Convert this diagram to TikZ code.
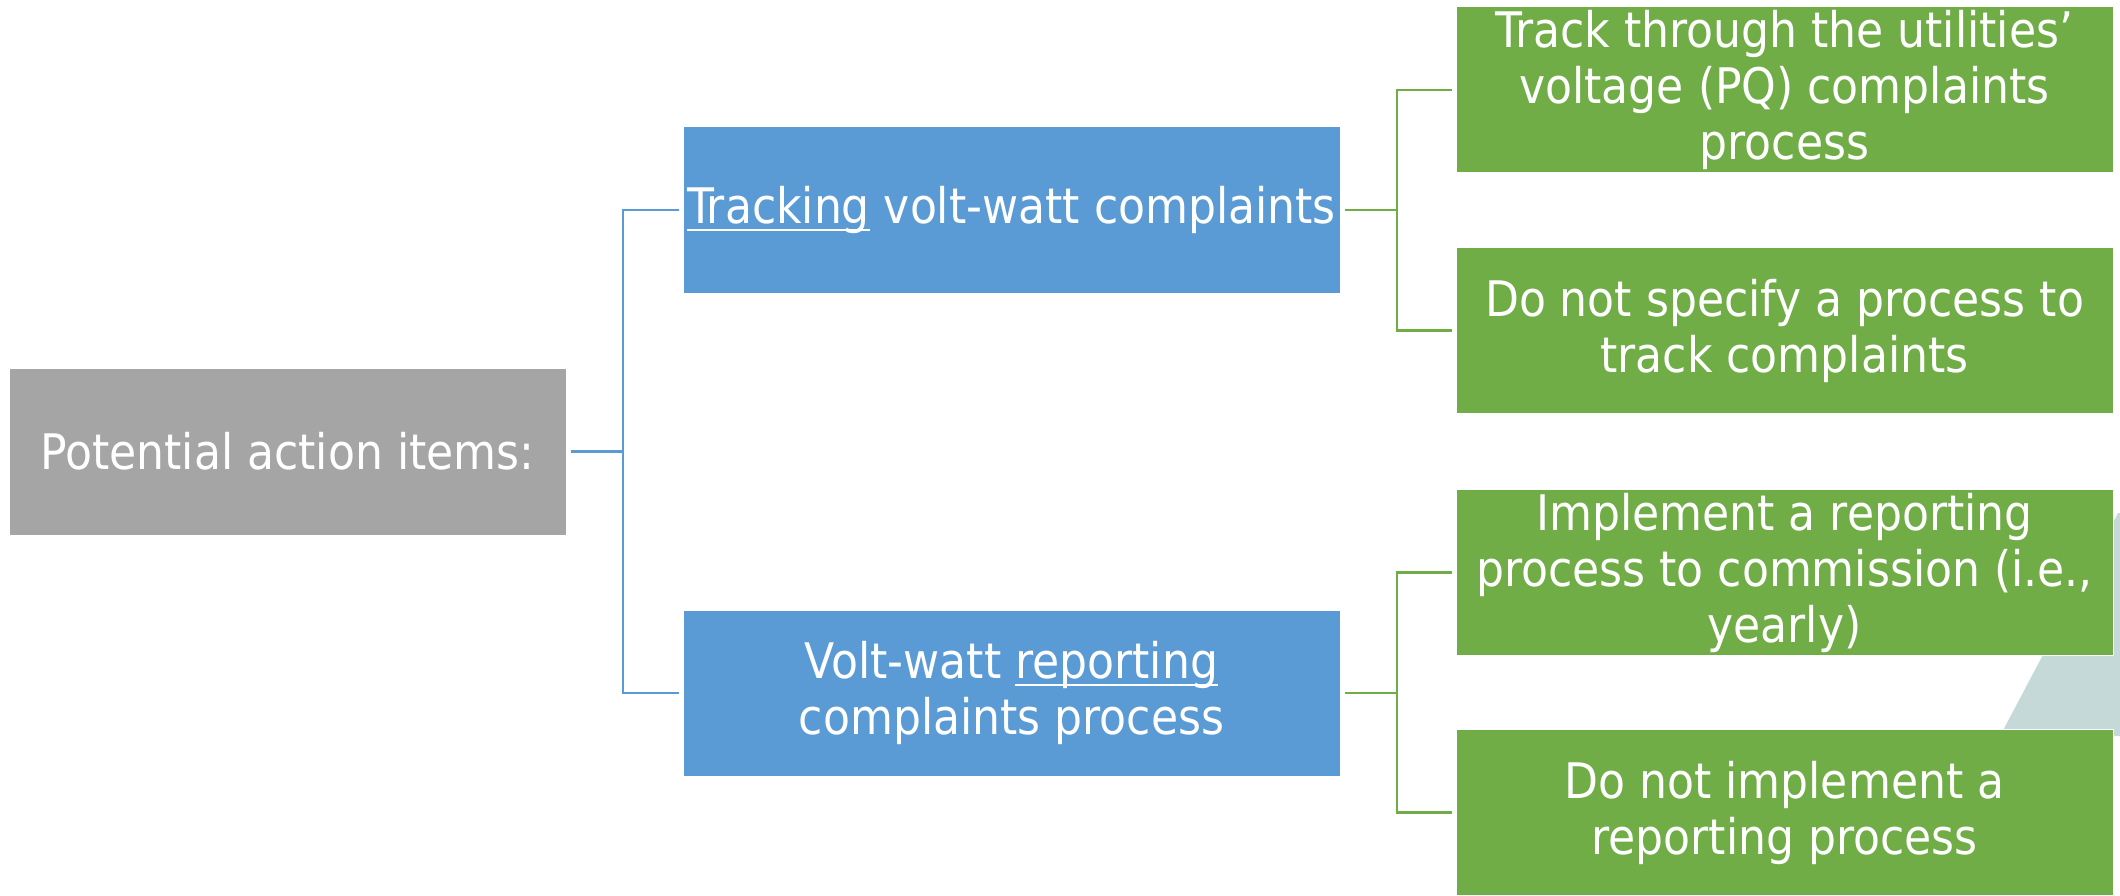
\documentclass[tikz,border=0pt]{standalone}
\usepackage{fontspec}
\setmainfont{DejaVu Sans Condensed}
\newcommand\myul[1]{\leavevmode\vtop{\hbox{#1}\kern-5pt\hrule height 2.5pt}}
\definecolor{cgray}{HTML}{A5A5A5}
\definecolor{cblue}{HTML}{5B9BD5}
\definecolor{cgreen}{HTML}{70AD47}
\definecolor{cshape}{HTML}{C5D9D8}
\tikzset{
  boxbase/.style={rectangle, draw=white, line width=1pt, text=white, align=center,
    inner sep=0pt, font=\fontsize{49}{56}\selectfont},
  graybox/.style={boxbase, fill=cgray, minimum width=557pt, minimum height=167pt},
  bluebox/.style={boxbase, fill=cblue, minimum width=657pt, minimum height=166pt},
  greenbox/.style={boxbase, fill=cgreen, minimum width=657pt, minimum height=166pt},
  bcon/.style={draw=cblue, line width=2.5pt},
  gcon/.style={draw=cgreen, line width=2.5pt},
}
\begin{document}
\begin{tikzpicture}[x=1pt,y=-1pt]
\useasboundingbox (0,0) rectangle (2120,896);
% background shape partly hidden
\fill[cshape] (2000,736) -- (2118,513) -- (2120,513) -- (2120,736) -- cycle;
\node[graybox] (pot) at (287.5,451.5) {Potential action items:};
\node[bluebox] (b1) at (1011.5,210) {\myul{Tracking} volt-watt complaints};
\node[bluebox] (b2) at (1011.5,693) {Volt-watt \myul{reporting}\\complaints process};
\node[greenbox] (g1) at (1784.5,90) {Track through the utilities’\\voltage (PQ) complaints\\process};
\node[greenbox] (g2) at (1784.5,330.5) {Do not specify a process to\\track complaints};
\node[greenbox] (g3) at (1784.5,572.5) {Implement a reporting\\process to commission (i.e.,\\yearly)};
\node[greenbox] (g4) at (1784.5,812.5) {Do not implement a\\reporting process};
\coordinate (t1) at (623,451.5);
\coordinate (t2) at (1397,210);
\coordinate (t3) at (1397,693);
\draw[bcon] ([xshift=4pt]pot.east) -- (t1);
\draw[bcon] (t1) |- ([xshift=-4pt]b1.west);
\draw[bcon] (t1) |- ([xshift=-4pt]b2.west);
\draw[gcon] ([xshift=4pt]b1.east) -- (t2);
\draw[gcon] (t2) |- ([xshift=-4pt]g1.west);
\draw[gcon] (t2) |- ([xshift=-4pt]g2.west);
\draw[gcon] ([xshift=4pt]b2.east) -- (t3);
\draw[gcon] (t3) |- ([xshift=-4pt]g3.west);
\draw[gcon] (t3) |- ([xshift=-4pt]g4.west);
\end{tikzpicture}
\end{document}
